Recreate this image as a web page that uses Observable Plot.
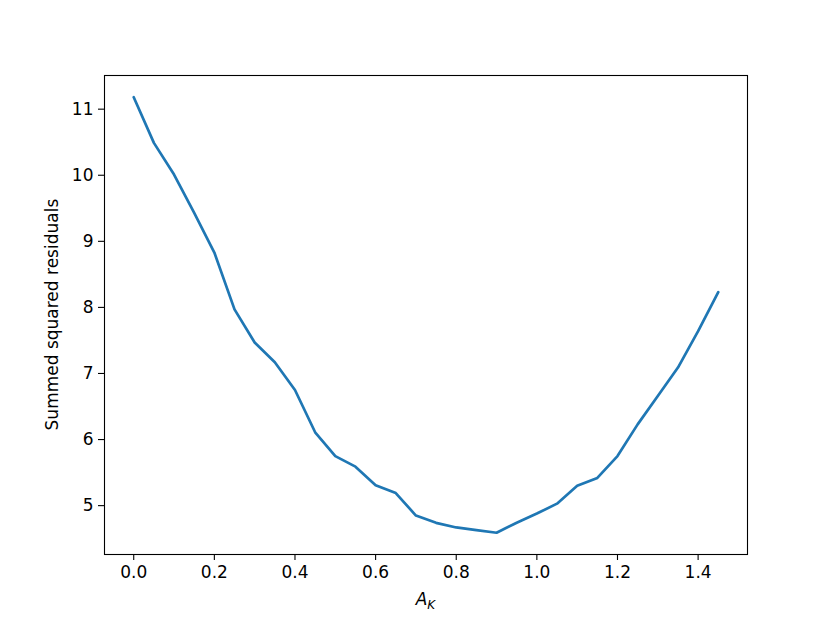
<!DOCTYPE html>
<html>
<head>
<meta charset="utf-8">
<script src="https://cdn.jsdelivr.net/npm/d3@7"></script>
<script src="https://cdn.jsdelivr.net/npm/@observablehq/plot@0.6"></script>
<style>
  html, body { margin: 0; padding: 0; background: #fff; }
</style>
</head>
<body>
<div id="chart"></div>
<script>
const aK = [0.00, 0.05, 0.10, 0.15, 0.20, 0.25, 0.30, 0.35, 0.40, 0.45,
            0.50, 0.55, 0.60, 0.65, 0.70, 0.75, 0.80, 0.85, 0.90, 0.95,
            1.00, 1.05, 1.10, 1.15, 1.20, 1.25, 1.30, 1.35, 1.40, 1.45];
const residuals = [11.18, 10.49, 10.01, 9.43, 8.83, 7.97, 7.47, 7.17, 6.75, 6.11,
                   5.75, 5.59, 5.31, 5.19, 4.85, 4.74, 4.67, 4.63, 4.59, 4.74,
                   4.88, 5.03, 5.30, 5.42, 5.75, 6.23, 6.66, 7.09, 7.64, 8.23];
const xTicks = [0.0, 0.2, 0.4, 0.6, 0.8, 1.0, 1.2, 1.4];
const yTicks = [5, 6, 7, 8, 9, 10, 11];
const yLabel = "Summed squared residuals";

const data = aK.map((a, i) => ({a, r: residuals[i]}));

const pad = (lo, hi) => { const d = (hi - lo) * 0.05; return [lo - d, hi + d]; };

const chart = Plot.plot({
  width: 830,
  height: 623,
  marginLeft: 104,
  marginRight: 83,
  marginTop: 75,
  marginBottom: 69,
  style: {fontFamily: "'DejaVu Sans', sans-serif", fontSize: "17px", background: "#fff", color: "#000"},
  x: {domain: pad(d3.min(aK), d3.max(aK)), label: null},
  y: {domain: pad(d3.min(residuals), d3.max(residuals)), label: null},
  marks: [
    Plot.line(data, {x: "a", y: "r", stroke: "#1f77b4", strokeWidth: 2.7}),
    Plot.frame({stroke: "#000", strokeWidth: 1.1}),
    Plot.axisX({ticks: xTicks, tickFormat: d => d.toFixed(1), tickSize: 6, tickPadding: 5, fontSize: 17, label: null, strokeWidth: 1.1}),
    Plot.axisY({ticks: yTicks, tickFormat: d => String(d), tickSize: 6, tickPadding: 5, fontSize: 17, label: null, strokeWidth: 1.1})
  ]
});

const svg = d3.select(chart);
svg.append("text")
  .attr("transform", "translate(58,314.6) rotate(-90)")
  .attr("text-anchor", "middle")
  .attr("font-family", "'DejaVu Sans', sans-serif")
  .attr("font-size", 17)
  .attr("fill", "#000")
  .text(yLabel);

const xl = svg.append("text")
  .attr("x", 425.4)
  .attr("y", 605)
  .attr("text-anchor", "middle")
  .attr("font-family", "'DejaVu Sans', sans-serif")
  .attr("font-size", 17)
  .attr("font-style", "italic")
  .attr("fill", "#000");
xl.append("tspan").text("A");
xl.append("tspan").attr("font-size", 12).attr("dy", 4).text("K");

document.getElementById("chart").appendChild(chart);
</script>
</body>
</html>
